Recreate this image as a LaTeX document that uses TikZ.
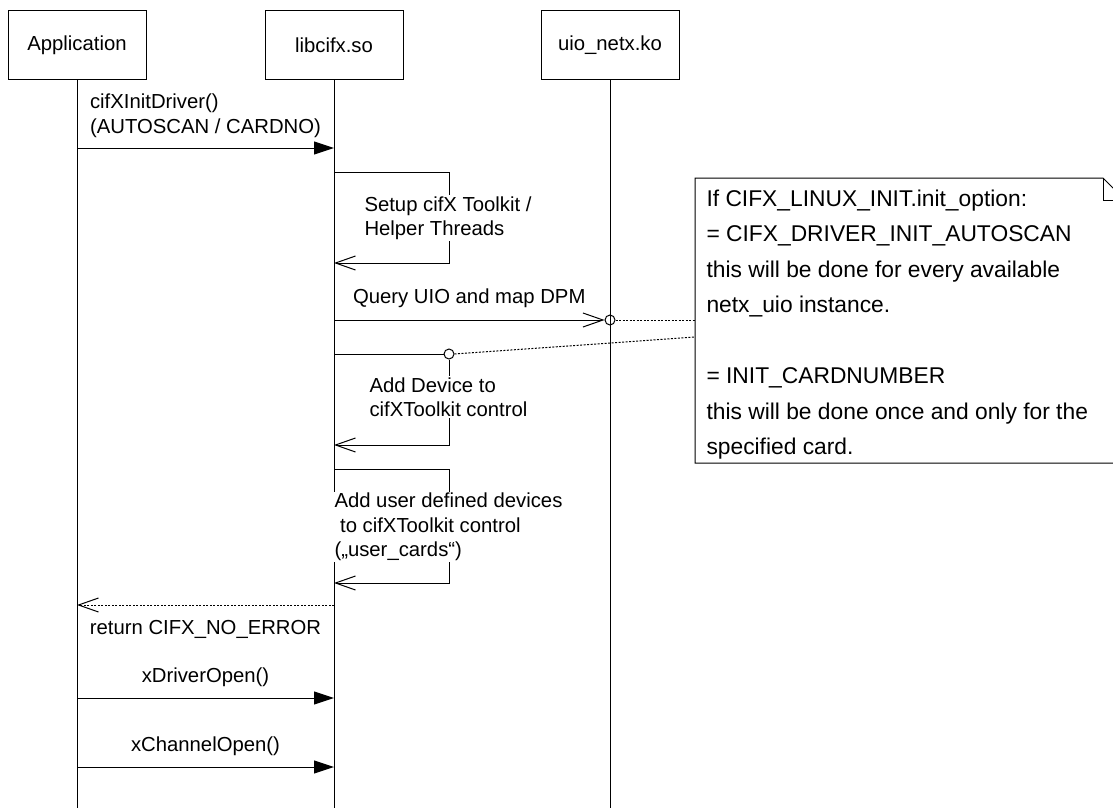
\documentclass[tikz,border=0pt]{standalone}
\usepackage{fontspec}
\setmainfont{Liberation Sans}
\usetikzlibrary{arrows.meta}

\tikzset{
  lbl/.style={font=\fontsize{20.3}{24.5}\selectfont, inner sep=1pt},
  lane/.style={draw, lbl, minimum width=138pt, minimum height=68pt},
  msg/.style={-{Triangle[length=20pt,width=13pt]}},
  selfmsg/.style={-{Straight Barb[length=20pt,width=14pt]}},
  reply/.style={selfmsg, dash pattern=on 2pt off 1.5pt},
  notelink/.style={dash pattern=on 2pt off 1.5pt},
  probe/.style={circle, draw, minimum size=10pt, inner sep=0pt},
}

\begin{document}
\begin{tikzpicture}[x=1pt, y=-1pt, line width=1pt]
  \useasboundingbox (0,0) rectangle (1113,808);
  \clip (0,0) rectangle (1113,808);

  % Heads of the lifelines
  \node[lane] (app) at (77,45) {Application};
  \node[lane] (lib) at (334,45) {libcifx.so};
  \node[lane] (uio) at (610,45) {uio\_netx.ko};

  % Lifelines
  \coordinate (bottom) at (0,808);
  \foreach \n in {app,lib,uio}
    \draw (\n.south) -- (\n.south |- bottom);

  % Rows of the messages
  \coordinate (r1) at (0,148);
  \coordinate (s1a) at (0,172);
  \coordinate (s1b) at (0,263);
  \coordinate (r2) at (0,320);
  \coordinate (s2a) at (0,354);
  \coordinate (s2b) at (0,445);
  \coordinate (s3a) at (0,469);
  \coordinate (s3b) at (0,583);
  \coordinate (r4) at (0,605);
  \coordinate (r5) at (0,698);
  \coordinate (r6) at (0,767);
  \coordinate (n2) at (0,337);

  % Driver init
  \draw[msg] (app |- r1) -- node[lbl, above=9pt, align=left] (initlbl)
    {cifXInitDriver()\\(AUTOSCAN / CARDNO)} (lib |- r1);

  % Toolkit setup
  \draw[selfmsg] (lib |- s1a) -- ++(115,0) |- (lib |- s1b);
  \node[lbl, fill=white, anchor=west, align=left] (setuplbl) at (363,218)
    {Setup cifX Toolkit /\\Helper Threads};

  % Query UIO
  \node[probe] (q1) at (uio |- r2) {};
  \draw[selfmsg] (lib |- r2) -- node[lbl, above=11pt] (querylbl)
    {Query UIO and map DPM} (q1.west);

  % Add device
  \path (lib |- s2a) ++(115,0) node[probe] (q2) {};
  \draw (lib |- s2a) -- (q2.west);
  \draw[selfmsg] (q2.south) |- (lib |- s2b);
  \node[lbl, fill=white, anchor=west, align=left] (addlbl) at (368,397)
    {Add Device to\\cifXToolkit control};

  % User cards
  \draw[selfmsg] (lib |- s3a) -- ++(115,0) |- (lib |- s3b);
  \node[lbl, fill=white, anchor=west, align=left] (userlbl) at (333,527)
    {Add user defined devices\\\ to cifXToolkit control\\(„user\_cards“)};

  % Return value
  \draw[reply] (lib |- r4) -- node[lbl, below=14pt] (retlbl)
    {return CIFX\_NO\_ERROR} (app |- r4);

  % Open driver and channel
  \draw[msg] (app |- r5) -- node[lbl, above=10pt] (drvlbl)
    {xDriverOpen()} (lib |- r5);
  \draw[msg] (app |- r6) -- node[lbl, above=10pt] (chlbl)
    {xChannelOpen()} (lib |- r6);

  % Note
  \draw (695,178) -- (1103,178) -- (1125,200) -- (1125,463) -- (695,463) -- cycle;
  \draw (1103,178) -- (1103,200) -- (1125,200);
  \node[lbl, font=\fontsize{22.8}{35.5}\selectfont, align=left, anchor=north west,
        inner xsep=11pt, inner ysep=0pt] (notetext) at (695,189)
    {If CIFX\_LINUX\_INIT.init\_option:\\
     = CIFX\_DRIVER\_INIT\_AUTOSCAN\\
     this will be done for every available\\
     netx\_uio instance.\\[35.5pt]
     = INIT\_CARDNUMBER\\
     this will be done once and only for the\\
     specified card.};
  \draw[notelink] (q1.east) -- (notetext.west |- r2);
  \draw[notelink] (q2.east) -- (notetext.west |- n2);
\end{tikzpicture}
\end{document}
